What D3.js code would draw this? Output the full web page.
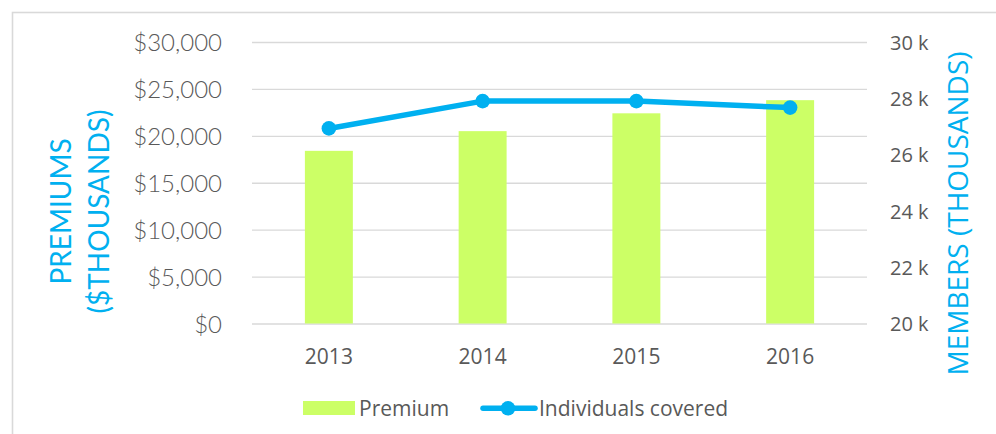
<!DOCTYPE html>
<html>
<head>
<meta charset="utf-8">
<script src="https://cdn.jsdelivr.net/npm/d3@7/dist/d3.min.js"></script>
<style>
  html, body { margin: 0; padding: 0; background: #fff; }
  svg { display: block; }
</style>
</head>
<body>
<svg id="chart" width="996" height="434"></svg>
<script>
const categories = ["2013", "2014", "2015", "2016"];
const premiums = [18400, 20500, 22400, 23800];
const members = [26930, 27900, 27900, 27670];
const leftTicks = [0, 5000, 10000, 15000, 20000, 25000, 30000];
const rightTicks = [20000, 22000, 24000, 26000, 28000, 30000];
const seriesNames = ["Premium", "Individuals covered"];
const leftTitle = ["PREMIUMS", "($THOUSANDS)"];
const rightTitle = "MEMBERS (THOUSANDS)";

const BAR = "#CCFF66", LINE = "#00B0F0", TEXT = "#595959", GRID = "#d9d9d9";
const svg = d3.select("#chart");

// frame
svg.append("rect").attr("x", 12.5).attr("y", 12.5).attr("width", 1000).attr("height", 500)
  .attr("fill", "none").attr("stroke", GRID).attr("stroke-width", 1.6);

const x = d3.scaleBand().domain(categories).range([252, 867]).paddingInner(0.688).paddingOuter(0.344);
const yL = d3.scaleLinear().domain([0, 30000]).range([323.5, 42]);
const yR = d3.scaleLinear().domain([20000, 30000]).range([323.5, 42]);

// gridlines
const grid = svg.append("g").attr("transform", "translate(252,0)")
  .call(d3.axisRight(yL).tickValues(leftTicks).tickSize(615).tickFormat(""));
grid.select(".domain").remove();
grid.selectAll("line").attr("stroke", GRID).attr("stroke-width", 1.3);

// left axis
const la = svg.append("g").attr("transform", "translate(222,0)")
  .call(d3.axisLeft(yL).tickValues(leftTicks).tickSize(0).tickPadding(0)
    .tickFormat(d => "$" + d3.format(",")(d)));
la.select(".domain").remove();
la.selectAll("text").attr("fill", TEXT).attr("font-family", "Lato").attr("font-weight", 300)
  .attr("font-size", 24).attr("dy", "0.36em");

// right axis
const ra = svg.append("g").attr("transform", "translate(890,0)")
  .call(d3.axisRight(yR).tickValues(rightTicks).tickSize(0).tickPadding(0)
    .tickFormat(d => (d / 1000) + " k"));
ra.select(".domain").remove();
ra.selectAll("text").attr("fill", TEXT).attr("font-family", "Open Sans")
  .attr("font-size", 20).attr("dy", "0.36em");

// x axis
const xa = svg.append("g").attr("transform", "translate(0,356)")
  .call(d3.axisBottom(x).tickSize(0).tickPadding(0));
xa.select(".domain").remove();
xa.selectAll("text").attr("y", 0).attr("dy", "0.36em").attr("fill", TEXT)
  .attr("font-family", "Open Sans").attr("font-size", 21);

// bars
svg.append("g").selectAll("rect").data(categories).join("rect")
  .attr("x", d => x(d)).attr("width", x.bandwidth())
  .attr("y", (d, i) => yL(premiums[i])).attr("height", (d, i) => yL(0) - yL(premiums[i]))
  .attr("fill", BAR);

// line
const cx = d => x(d) + x.bandwidth() / 2;
const line = d3.line().x((d, i) => cx(categories[i])).y(d => yR(d));
svg.append("path").datum(members).attr("d", line).attr("fill", "none")
  .attr("stroke", LINE).attr("stroke-width", 5.5).attr("stroke-linejoin", "round").attr("stroke-linecap", "round");
svg.append("g").selectAll("circle").data(members).join("circle")
  .attr("cx", (d, i) => cx(categories[i])).attr("cy", d => yR(d)).attr("r", 7.3).attr("fill", LINE);

// axis titles
const lt = svg.append("g");
lt.append("text").attr("transform", "translate(70.5,211.5) rotate(-90)").attr("text-anchor", "middle")
  .attr("fill", LINE).attr("font-family", "Lato").attr("font-size", 28).text(leftTitle[0]);
lt.append("text").attr("transform", "translate(109,211.5) rotate(-90)").attr("text-anchor", "middle")
  .attr("fill", LINE).attr("font-family", "Lato").attr("font-size", 28).text(leftTitle[1]);
svg.append("text").attr("transform", "translate(968,213.5) rotate(-90)").attr("text-anchor", "middle")
  .attr("fill", LINE).attr("font-family", "Open Sans").attr("font-size", 28).text(rightTitle);

// legend
const lg = svg.append("g").attr("font-family", "Open Sans").attr("font-size", 21).attr("fill", TEXT);
lg.append("rect").attr("x", 303).attr("y", 401).attr("width", 52).attr("height", 14).attr("fill", BAR);
lg.append("text").attr("x", 359).attr("y", 416).text(seriesNames[0]);
lg.append("line").attr("x1", 483).attr("x2", 535).attr("y1", 408.3).attr("y2", 408.3)
  .attr("stroke", LINE).attr("stroke-width", 5.5).attr("stroke-linecap", "round");
lg.append("circle").attr("cx", 508).attr("cy", 408.3).attr("r", 7.3).attr("fill", LINE);
lg.append("text").attr("x", 539).attr("y", 416).text(seriesNames[1]);
</script>
</body>
</html>
